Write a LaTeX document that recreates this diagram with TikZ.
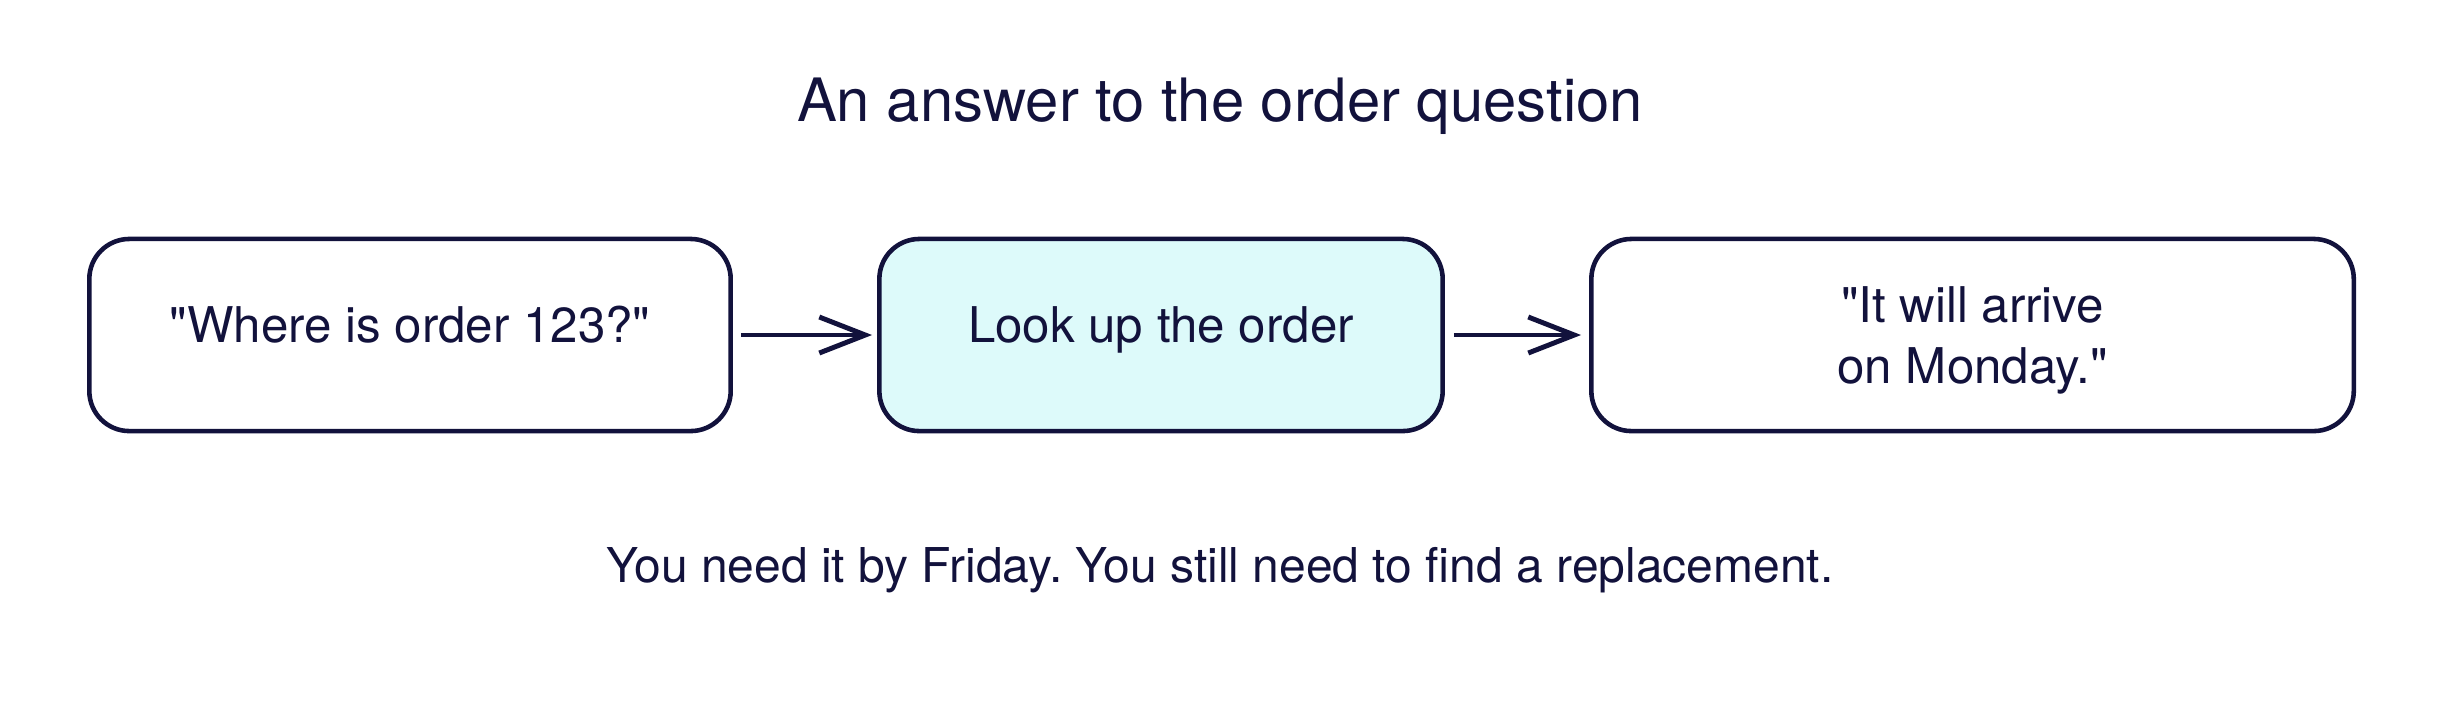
\documentclass[tikz,border=0pt]{standalone}
\usepackage{fontspec}
\setmainfont{TeX Gyre Heros}[Ligatures=TeXOff]
\usepackage{xcolor}
\usetikzlibrary{arrows.meta, positioning}
\definecolor{ink}{HTML}{12123C}
\definecolor{lookfill}{HTML}{DDFAFA}
\frenchspacing
\tikzset{
  card/.style={draw=ink, line width=1.3pt, rounded corners=0.4cm, fill=white,
    minimum width=6.41cm, minimum height=1.92cm, align=center, text=ink,
    font=\fontsize{14}{17.3}\selectfont},
  oneline/.style={text height=10pt, text depth=5.5pt},
  flow/.style={draw=ink, line width=1.4pt,
    -{Straight Barb[length=4.6mm, width=3.6mm, line width=1.4pt]}},
  caption/.style={text=ink, anchor=base}
}
\begin{document}
\begin{tikzpicture}[x=0.01cm, y=-0.01cm]
\useasboundingbox (0,0) rectangle (2440,720);

% title
\node[caption, font=\fontsize{17}{20}\selectfont] (title) at (1220,121) {An answer to the order question};

% the three steps
\node[card, oneline] (ask) at (410,335) {"Where is order 123?"};
\node[card, oneline, fill=lookfill, minimum width=5.63cm, right=1.44cm of ask] (look) {Look up the order};
\node[card, minimum width=7.62cm, text height=30.7pt, right=1.44cm of look] (reply) {"It will arrive\\on Monday."};

\draw[flow] ([xshift=0.08cm]ask.east) -- ([xshift=-0.05cm]look.west);
\draw[flow] ([xshift=0.09cm]look.east) -- ([xshift=-0.08cm]reply.west);

% note below
\node[caption, font=\fontsize{13.65}{16}\selectfont] (note) at (1220,582) {You need it by Friday. You still need to find a replacement.};
\end{tikzpicture}
\end{document}
